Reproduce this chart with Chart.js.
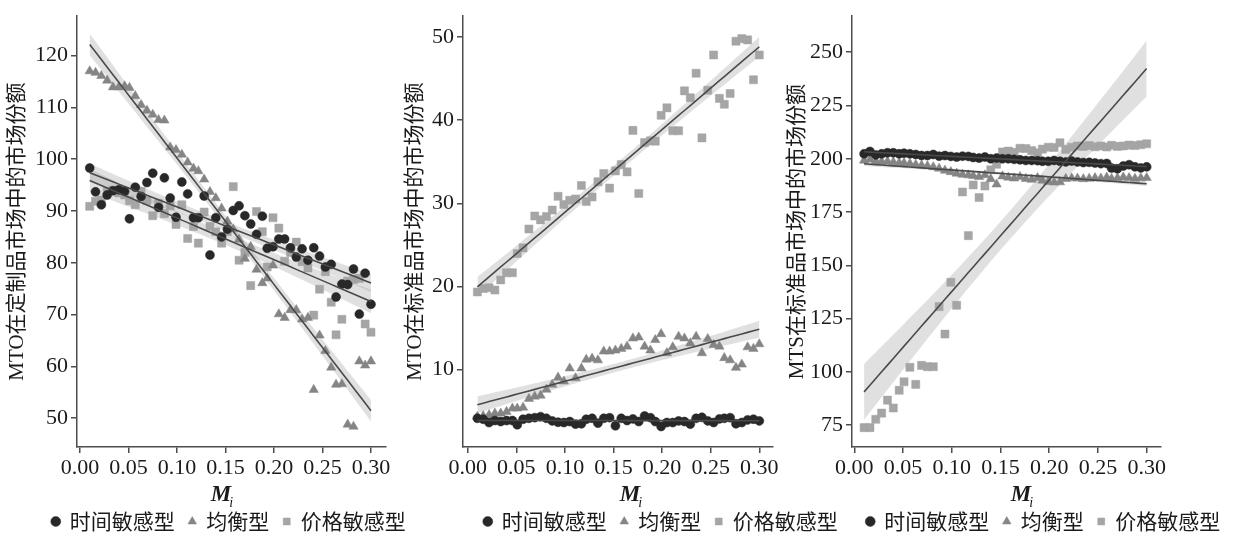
<!DOCTYPE html>
<html>
<head>
<meta charset="utf-8">
<script src="https://cdn.jsdelivr.net/npm/chart.js@4.4.0/dist/chart.umd.min.js"></script>
<style>
  html, body { margin: 0; padding: 0; background: #fff; overflow: hidden; }
  #wrap { position: relative; width: 1234px; height: 537px; overflow: hidden; }
  #wrap canvas { position: absolute; top: 0; }
</style>
</head>
<body>
<div id="wrap">
  <canvas id="c1"></canvas>
  <canvas id="c2"></canvas>
  <canvas id="c3"></canvas>
</div>
<script>
// M_i values shared by all three panels
const xs = [0.010,0.016,0.022,0.028,0.034,0.040,0.046,0.051,0.057,0.063,
            0.069,0.075,0.081,0.087,0.093,0.099,0.105,0.111,0.117,0.122,
            0.128,0.134,0.140,0.146,0.152,0.158,0.164,0.170,0.176,0.182,
            0.188,0.193,0.199,0.205,0.211,0.217,0.223,0.229,0.235,0.241,
            0.247,0.253,0.259,0.264,0.270,0.276,0.282,0.288,0.294,0.300];
const xTicks = [0, 0.05, 0.10, 0.15, 0.20, 0.25, 0.30];
const seriesNames = ['时间敏感型', '均衡型', '价格敏感型'];
const yTitles = ['MTO在定制品市场中的市场份额', 'MTO在标准品市场中的市场份额', 'MTS在标准品市场中的市场份额'];

// panel 1: MTO, customised products
const p1Time = [98.3,93.7,91.2,93.1,93.9,94.1,93.8,88.5,94.6,92.8,
                95.5,97.3,90.7,96.4,92.5,88.8,95.6,93.3,88.7,88.7,
                92.9,81.5,88.7,85.0,86.5,90.1,91.0,89.1,87.5,85.5,
                89.0,82.8,83.1,84.6,84.6,82.9,81.1,82.7,80.5,82.9,
                81.3,79.2,79.7,73.4,75.9,75.8,78.8,70.1,78.0,72.0];
const p1Balanced = [117.0,116.7,116.1,115.2,113.9,113.9,114.1,113.8,112.2,110.5,
                    109.4,108.6,107.6,107.5,102.3,101.8,100.9,99.4,98.2,97.7,
                    96.1,93.7,92.5,90.5,88.0,86.5,84.5,80.8,83.1,78.7,
                    76.1,77.0,79.5,70.1,69.4,70.9,70.9,69.1,69.4,55.5,
                    66.0,63.0,59.8,56.5,56.6,48.8,48.4,61.0,60.2,61.0];
const p1Price = [90.9,91.9,92.1,93.8,94.0,93.5,93.1,92.0,91.2,93.8,
                 92.0,89.1,91.5,89.5,91.0,87.4,91.2,84.7,87.0,83.8,
                 89.8,87.0,86.0,83.8,86.0,94.7,80.5,82.0,75.6,89.9,
                 86.0,79.2,88.7,86.7,80.3,82.0,84.0,80.2,79.0,69.9,
                 74.9,78.3,72.4,66.1,69.1,76.5,76.8,77.0,68.2,66.6];
const p1Ticks = [50, 60, 70, 80, 90, 100, 110, 120];

// panel 2: MTO, standard products
const p2Time = [4.15,4.04,3.64,3.88,3.76,3.88,3.88,3.37,4.04,4.15,
                4.23,4.35,4.15,3.84,3.68,3.64,3.76,3.45,3.49,4.04,
                4.15,3.57,4.15,4.23,3.25,4.15,3.88,4.08,3.76,4.43,
                4.23,3.76,3.17,3.64,3.64,3.84,3.76,3.45,4.15,4.27,
                3.84,3.64,4.08,4.15,4.23,3.49,3.64,3.96,4.04,3.84];
const p2Balanced = [4.35,4.43,4.55,4.74,4.74,4.94,5.34,5.34,5.45,6.51,
                    6.78,6.90,7.61,8.20,9.06,8.59,10.16,8.99,10.16,11.22,
                    11.34,11.14,12.20,12.20,12.32,12.52,12.79,13.77,13.89,12.79,
                    12.32,13.58,14.29,12.00,12.71,13.98,13.77,13.18,13.98,12.00,
                    13.70,12.99,12.79,11.41,11.14,10.24,10.63,12.71,12.52,13.07];
const p2Price = [19.34,19.76,19.85,19.57,20.79,21.65,21.65,23.97,24.64,26.91,
                 28.48,28.01,28.41,29.19,30.84,29.86,30.37,30.53,32.14,30.21,
                 30.76,32.60,33.59,31.83,33.90,34.65,33.78,38.77,31.19,37.31,
                 37.51,37.48,40.58,41.48,38.73,38.73,43.52,42.70,45.64,37.87,
                 43.60,47.84,42.62,41.91,43.20,49.49,49.80,49.65,44.85,47.84];
const p2Ticks = [10, 20, 30, 40, 50];

// panel 3: MTS, standard products
const p3Time = [202.3,203.4,201.8,202.3,202.8,202.8,202.3,202.6,202.3,202.0,
                201.5,201.5,202.0,201.2,201.5,201.1,200.8,201.2,201.1,200.6,
                200.3,200.8,200.0,200.3,200.0,200.0,199.7,199.5,199.2,199.2,
                199.1,198.8,198.8,199.2,198.8,198.5,198.9,198.5,198.2,198.3,
                198.0,197.7,197.8,195.6,195.3,196.6,197.2,196.2,195.7,196.2];
const p3Balanced = [199.2,199.7,198.9,198.7,198.7,198.4,198.1,198.0,197.7,197.2,
                    196.9,196.6,196.1,195.4,194.5,193.8,193.1,192.6,192.3,192.0,
                    191.5,192.3,190.5,188.0,191.8,191.2,190.8,191.5,190.6,190.2,
                    191.0,189.8,189.2,188.9,189.0,190.6,190.9,190.8,190.5,190.7,
                    191.0,190.8,191.2,190.6,190.9,191.3,191.0,190.7,190.9,191.0];
const p3Price = [73.8,73.8,77.7,80.6,86.7,83.0,91.3,95.3,102.1,94.1,
                 103.0,102.4,102.4,130.6,117.7,142.0,131.2,184.4,163.9,187.7,
                 181.8,187.2,194.8,197.4,203.2,203.6,203.0,204.9,204.8,203.8,
                 202.8,204.5,205.4,205.3,207.5,204.4,205.4,206.0,205.8,206.2,
                 205.6,206.0,205.5,206.3,205.8,206.0,206.4,206.2,206.6,207.0];
const p3Ticks = [75, 100, 125, 150, 175, 200, 225, 250];

// look and placement
const serif = "'Liberation Serif', 'Noto Sans CJK SC', serif";
const sans = "'Noto Sans CJK SC', 'Noto Sans', sans-serif";
const ink = '#1a1a1a';
const axisColor = '#4d4d4d';
const markStyles = [
  { shape: 'circle', r: 4.5, color: '#282828' },
  { shape: 'triangle', r: 5.4, color: '#858585' },
  { shape: 'rect', r: 5.7, color: '#a5a5a5' }
];
const canvasH = 542;

const panels = [
  { id: 'c1', left: 0, width: 458, yW: 77, padR: 72, xMin: -0.0031, xMax: 0.3155,
    yMin: 44.45, yMax: 127.6, yTicks: p1Ticks, series: [p1Time, p1Balanced, p1Price], titleX: 221 },
  { id: 'c2', left: 398, width: 526, yW: 65, padR: 151, xMin: -0.0048, xMax: 0.3141,
    yMin: 0.7, yMax: 52.5, yTicks: p2Ticks, series: [p2Time, p2Balanced, p2Price], titleX: 630 },
  { id: 'c3', left: 780, width: 527, yW: 72, padR: 146, xMin: -0.0024, xMax: 0.3147,
    yMin: 64.7, yMax: 266.9, yTicks: p3Ticks, series: [p3Time, p3Balanced, p3Price], titleX: 1021 }
];

// least squares line with a 95% confidence band
const tCrit = 2.011;
function regression(ys) {
  const n = xs.length;
  const mx = xs.reduce((a, b) => a + b, 0) / n;
  const my = ys.reduce((a, b) => a + b, 0) / n;
  let sxx = 0, sxy = 0;
  for (let i = 0; i < n; i++) {
    sxx += (xs[i] - mx) ** 2;
    sxy += (xs[i] - mx) * (ys[i] - my);
  }
  const b = sxy / sxx, a = my - b * mx;
  let sse = 0;
  for (let i = 0; i < n; i++) sse += (ys[i] - a - b * xs[i]) ** 2;
  const s = Math.sqrt(sse / (n - 2));
  const fit = [], lo = [], hi = [];
  xs.forEach(x => {
    const yh = a + b * x;
    const se = s * Math.sqrt(1 / n + (x - mx) ** 2 / sxx);
    fit.push({ x, y: yh });
    lo.push({ x, y: yh - tCrit * se });
    hi.push({ x, y: yh + tCrit * se });
  });
  return { fit, lo, hi };
}

// draws the italic M with subscript i under each panel
const xTitlePlugin = {
  id: 'xTitle',
  afterDraw(chart, args, opts) {
    const ctx = chart.ctx;
    const cx = opts.x;
    const base = opts.baseline;
    ctx.save();
    ctx.fillStyle = ink;
    ctx.textBaseline = 'alphabetic';
    ctx.textAlign = 'left';
    ctx.font = "italic bold 23px 'Liberation Serif'";
    const w = ctx.measureText('M').width;
    ctx.fillText('M', cx - w / 2, base);
    ctx.font = "italic 14px 'Liberation Serif'";
    ctx.fillText('i', cx + w / 2 - 2, base + 6);
    ctx.restore();
  }
};

panels.forEach((p, pi) => {
  const canvas = document.getElementById(p.id);
  canvas.width = p.width;
  canvas.height = canvasH;
  canvas.style.left = p.left + 'px';

  const datasets = [];
  p.series.forEach((ys, k) => {
    const st = markStyles[k];
    datasets.push({
      label: seriesNames[k],
      isPoint: true,
      data: xs.map((x, i) => ({ x, y: ys[i] })),
      pointStyle: st.shape,
      pointRadius: st.r,
      backgroundColor: st.color,
      borderColor: st.color,
      borderWidth: 0.5,
      showLine: false,
      order: 1
    });
  });
  p.series.forEach(ys => {
    const r = regression(ys);
    datasets.push({ data: r.hi, showLine: true, pointRadius: 0, borderWidth: 0,
      borderColor: 'rgba(0,0,0,0)', fill: false, order: 2 });
    datasets.push({ data: r.lo, showLine: true, pointRadius: 0, borderWidth: 0,
      borderColor: 'rgba(0,0,0,0)', fill: '-1', backgroundColor: 'rgba(160,160,160,0.32)', order: 2 });
    datasets.push({ data: r.fit, showLine: true, pointRadius: 0, borderWidth: 1.6,
      borderColor: '#4a4a4a', fill: false, order: 0 });
  });

  new Chart(canvas.getContext('2d'), {
    type: 'scatter',
    data: { datasets },
    plugins: [xTitlePlugin],
    options: {
      responsive: false,
      animation: false,
      events: [],
      layout: { padding: { top: 8, left: 0, right: 0, bottom: 0 } },
      plugins: {
        tooltip: { enabled: false },
        xTitle: { x: p.titleX - p.left, baseline: 501 },
        legend: {
          position: 'bottom',
          align: 'center',
          labels: {
            usePointStyle: true,
            boxWidth: 7,
            boxHeight: 7,
            padding: 14,
            color: ink,
            font: { size: 21, family: sans },
            filter: (item, data) => data.datasets[item.datasetIndex].isPoint === true
          }
        }
      },
      scales: {
        x: {
          type: 'linear',
          position: 'bottom',
          min: p.xMin,
          max: p.xMax,
          afterBuildTicks: s => { s.ticks = xTicks.map(v => ({ value: v })); },
          ticks: { callback: v => v.toFixed(2), color: ink, font: { size: 22, family: serif },
                   padding: 2, maxRotation: 0, autoSkip: false },
          grid: { drawOnChartArea: false, drawTicks: true, tickLength: 6, color: axisColor, lineWidth: 1.5 },
          border: { color: axisColor, width: 1.5 },
          afterFit: s => { s.height = 50; }
        },
        y: {
          type: 'linear',
          position: 'left',
          min: p.yMin,
          max: p.yMax,
          afterBuildTicks: s => { s.ticks = p.yTicks.map(v => ({ value: v })); },
          ticks: { color: ink, font: { size: 22, family: serif }, padding: 3 },
          grid: { drawOnChartArea: false, drawTicks: true, tickLength: 6, color: axisColor, lineWidth: 1.5 },
          border: { color: axisColor, width: 1.5 },
          title: { display: true, text: yTitles[pi], color: ink, font: { size: 21, family: serif },
                   padding: { top: 5, bottom: 0 } },
          afterFit: s => { s.width = p.yW; }
        },
        pad: {
          type: 'linear',
          position: 'right',
          display: true,
          ticks: { display: false },
          grid: { display: false, drawTicks: false },
          border: { display: false },
          afterFit: s => { s.width = p.padR; }
        }
      }
    }
  });
});
</script>
</body>
</html>
